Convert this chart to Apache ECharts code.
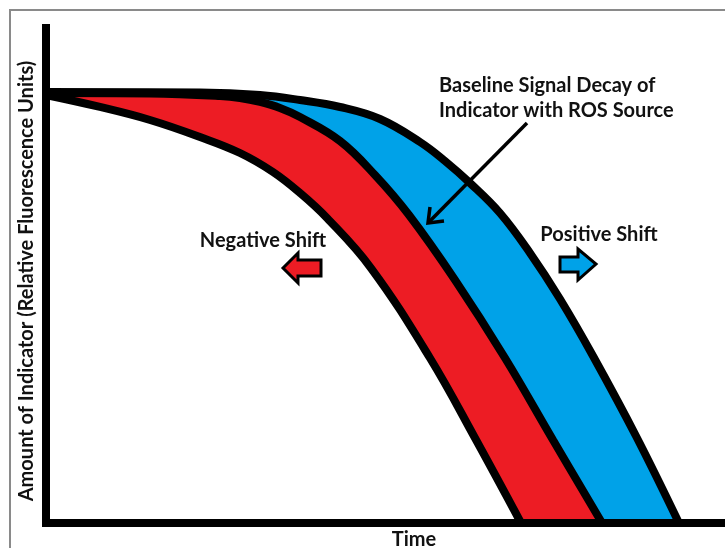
<!DOCTYPE html>
<html>
<head>
<meta charset="utf-8">
<script src="https://cdn.jsdelivr.net/npm/echarts@6/dist/echarts.min.js"></script>
<style>
  html, body { margin: 0; padding: 0; background: #fff; }
  #chart { width: 725px; height: 548px; }
</style>
</head>
<body>
<div id="chart"></div>
<script>
// negative shift curve (left edge of red band)
var negTime = [0, 7.95, 15.32, 22.68, 28.57, 33.43, 37.41, 41.38, 47.86, 56.55, 63.18, 69.96];
var negAmount = [85.77, 83.37, 80.76, 77.35, 74.15, 70.34, 66.13, 61.12, 51.1, 33.07, 17.03, 0];
// baseline decay (between red and blue)
var baseTime = [0, 15.32, 25.63, 28.57, 31.52, 34.46, 37.41, 43.3, 48.45, 53.46, 60.24, 67.6, 74.67, 81.89];
var baseAmount = [86.17, 86.07, 85.57, 85.17, 84.37, 83.17, 81.36, 76.55, 69.74, 61.72, 48.7, 33.07, 16.63, 0];
// positive shift curve (right edge of blue band)
var posTime = [0, 22.68, 31.52, 37.41, 43.3, 49.19, 55.08, 58.76, 62.44, 66.86, 71.28, 75.7, 80.56, 86.89, 93.22];
var posAmount = [86.37, 86.27, 85.77, 84.77, 83.37, 80.96, 76.35, 72.55, 68.14, 62.12, 54.11, 44.89, 33.47, 17.43, 0];

var RED = '#ed1c24';
var BLUE = '#00a2e8';
var FONT = 'bold 20px Lato, "Open Sans", sans-serif';

function pairs(xs, ys) {
    return xs.map(function (x, i) { return [x, ys[i]]; });
}

function curve(name, xs, ys, fill, z) {
    return {
        name: name,
        type: 'line',
        data: pairs(xs, ys),
        smooth: 0.4,
        showSymbol: false,
        silent: true,
        z: z,
        lineStyle: { color: '#000', width: 8 },
        areaStyle: { color: fill, opacity: 1, origin: 'start' }
    };
}

function label(text, x, y, align) {
    return {
        type: 'text',
        z: 30,
        x: x,
        y: y,
        style: {
            text: text,
            font: FONT,
            fill: '#111',
            align: align || 'center',
            verticalAlign: 'middle'
        }
    };
}

var chart = echarts.init(document.getElementById('chart'));
chart.setOption({
    animation: false,
    backgroundColor: '#fff',
    grid: { left: 46, right: 0, top: 24, bottom: 25 },
    xAxis: {
        type: 'value', min: 0, max: 100, z: 10,
        axisLine: { lineStyle: { color: '#000', width: 8, cap: 'square' } },
        axisTick: { show: false }, axisLabel: { show: false }, splitLine: { show: false }
    },
    yAxis: {
        type: 'value', min: 0, max: 100, z: 10,
        axisLine: { lineStyle: { color: '#000', width: 8, cap: 'butt' } },
        axisTick: { show: false }, axisLabel: { show: false }, splitLine: { show: false }
    },
    series: [
        curve('Positive Shift', posTime, posAmount, BLUE, 2),
        curve('Baseline', baseTime, baseAmount, RED, 3),
        curve('Negative Shift', negTime, negAmount, '#fff', 4)
    ],
    graphic: [
        {
            type: 'rect', silent: true, z: 30,
            shape: { x: 10, y: 10, width: 800, height: 600 },
            style: { fill: null, stroke: '#8a8a8a', lineWidth: 2 }
        },
        {
            type: 'text', z: 30, x: 27, y: 281, rotation: Math.PI / 2,
            style: {
                text: 'Amount of Indicator (Relative Fluorescence Units)',
                font: FONT, fill: '#111', align: 'center', verticalAlign: 'middle'
            }
        },
        label('Time', 414, 540),
        label('Baseline Signal Decay of', 439, 86, 'left'),
        label('Indicator with ROS Source', 439, 111, 'left'),
        label('Negative Shift', 263, 241),
        label('Positive Shift', 599, 235),
        {
            type: 'polyline', z: 30,
            shape: { points: [[527, 123], [429, 222]] },
            style: { stroke: '#000', lineWidth: 3.5 }
        },
        {
            type: 'polyline', z: 30,
            shape: { points: [[430, 207], [428, 223], [444, 221]] },
            style: { stroke: '#000', lineWidth: 3.5, fill: null }
        },
        {
            type: 'polygon', z: 30,
            shape: { points: [[283, 268], [298, 253], [298, 260], [321, 260], [321, 276], [298, 276], [298, 283]] },
            style: { fill: RED, stroke: '#000', lineWidth: 3, lineJoin: 'miter' }
        },
        {
            type: 'polygon', z: 30,
            shape: { points: [[560, 257], [578, 257], [578, 249], [596, 264], [578, 280], [578, 272], [560, 272]] },
            style: { fill: BLUE, stroke: '#000', lineWidth: 3, lineJoin: 'miter' }
        }
    ]
});
</script>
</body>
</html>
